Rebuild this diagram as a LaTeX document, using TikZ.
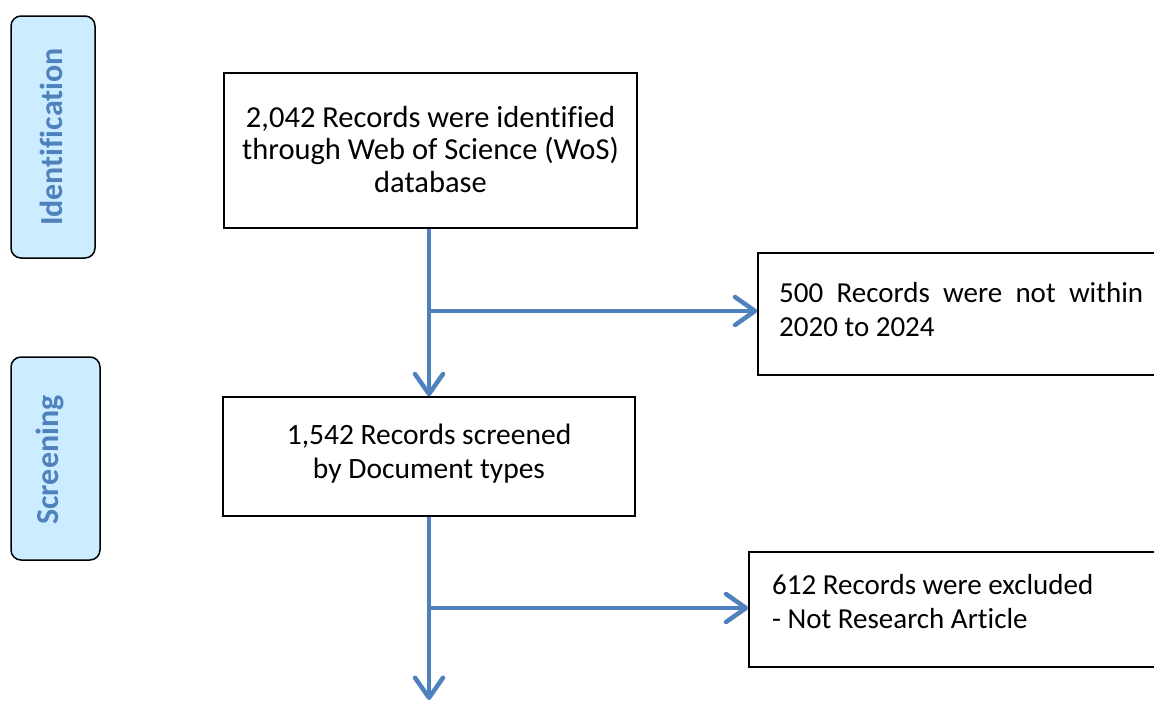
\documentclass[tikz,border=0pt]{standalone}
\usepackage{fontspec}
\setmainfont{Carlito}[Ligatures=NoCommon]
\usetikzlibrary{arrows.meta}
\definecolor{arrowblue}{HTML}{4F81BD}
\definecolor{stagefill}{HTML}{CCECFF}
\definecolor{stagetext}{HTML}{4F81BD}
\begin{document}
\begin{tikzpicture}[x=1pt,y=-1pt,
  box/.style={draw=black, line width=1.5pt, rectangle, inner sep=0pt},
  stage/.style={draw=black, line width=1.5pt, fill=stagefill, rounded corners=10pt, inner sep=0pt},
  stagelabel/.style={text=stagetext, font=\fontsize{32}{36}\selectfont\bfseries, rotate=90, inner sep=0pt},
  boxtext/.style={font=\fontsize{29}{34}\selectfont, inner sep=0pt},
  flow/.style={draw=arrowblue, line width=4.5pt},
  tip/.style={-{Straight Barb[length=20pt,width=28pt,round]}},
]
\useasboundingbox (0,0) rectangle (1154,702);

% stage boxes
\node[stage, minimum width=84pt, minimum height=242pt] (s1) at (53,137) {};
\node[stage, minimum width=89pt, minimum height=203pt] (s2) at (55.5,458.5) {};
\node[stagelabel] (l1) at (51,137) {Identification};
\node[stagelabel] (l2) at (50,460) {Screening};

% flow boxes
\node[box, minimum width=413pt, minimum height=155pt] (b1) at (430.5,150.5) {};
\node[box, minimum width=412pt, minimum height=119pt] (b2) at (429,456.5) {};
\node[box, minimum width=406pt, minimum height=122pt] (b3) at (961,314) {};
\node[box, minimum width=415pt, minimum height=115pt] (b4) at (956.5,609.5) {};

% texts
\node[boxtext, font=\fontsize{30.5}{32.5}\selectfont, align=center, anchor=north] (t1) at (430.5,106)
  {2,042 Records were identified\\through Web of Science (WoS)\\database};
\node[boxtext, font=\fontsize{29.5}{34}\selectfont, align=center, anchor=north] (t2) at (429,424)
  {1,542 Records screened\\by Document types};
\node[boxtext, text width=364pt, align=justify, anchor=north west] (t3) at (779,282.5)
  {500 Records were not within 2020 to 2024};
\node[boxtext, align=left, anchor=north west] (t4) at (772,574.5)
  {612 Records were excluded\\- Not Research Article};

% connectors
\coordinate (j1) at (429,311);
\coordinate (j2) at (429,608);
\coordinate (e) at (429,700);
\draw[flow,tip] (j1 |- b1.south) -- (j1 |- b2.north);
\draw[flow,tip] (j1) -- (j1 -| b3.west);
\draw[flow,tip] (j1 |- b2.south) -- (e);
\draw[flow,tip] (j2) -- (j2 -| b4.west);
\end{tikzpicture}
\end{document}
